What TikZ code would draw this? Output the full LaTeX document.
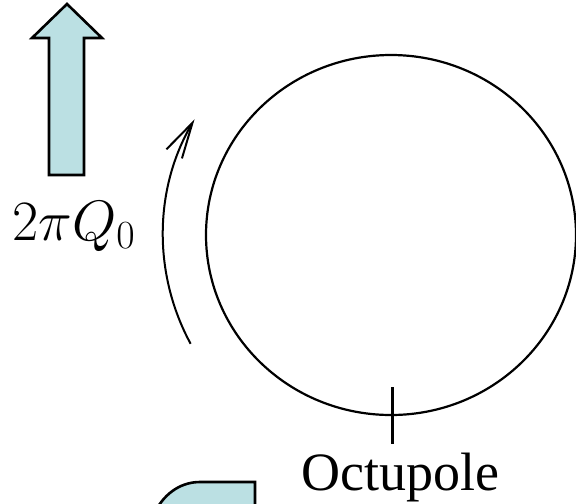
\RequirePackage{fix-cm}
\documentclass[tikz,border=0pt]{standalone}
\usepackage{fontspec}
\newfontfamily\timesfont{Liberation Serif}
\usetikzlibrary{arrows.meta}
\definecolor{octuarrow}{HTML}{BBE0E3}

\begin{document}
\begin{tikzpicture}[
  x=0.5pt, y=-0.5pt,
  blk/.style={draw=black, line width=1.3pt, fill=octuarrow, line join=miter},
  ring/.style={line width=1.1pt},
  turn/.style={line width=1pt, -{Straight Barb[length=18pt, width=9pt]}},
  lbl/.style={inner sep=0pt, anchor=base}
]
\clip (0,0) rectangle (576,503);

% tune shift arrow
\draw[blk] (67,4) -- (102,38) -- (84,38) -- (84,175) -- (49,175) -- (49,38) -- (32,38) -- cycle;
\node[lbl, anchor=base west] (tune) at (12,240) {\fontsize{28.5}{32}\selectfont $2\pi Q_0$};

% ring and direction of motion
\draw[ring] (391,235) ellipse [x radius=185, y radius=180];
\draw[turn] (391,235) ++(151.5:228) arc [start angle=151.5, end angle=210.5, radius=228];

% octupole location
\coordinate (tick) at (392,387);
\node[lbl] (octu) at (400,490) {\fontsize{27}{30}\selectfont\timesfont Octupole};
\draw[line width=1.5pt] (tick) -- (392,444);

% partial arrow below
\draw[blk] (255,520) -- (255,482) -- (200,482) .. controls (182,482) and (166,492) .. (156,510) -- cycle;
\end{tikzpicture}
\end{document}
